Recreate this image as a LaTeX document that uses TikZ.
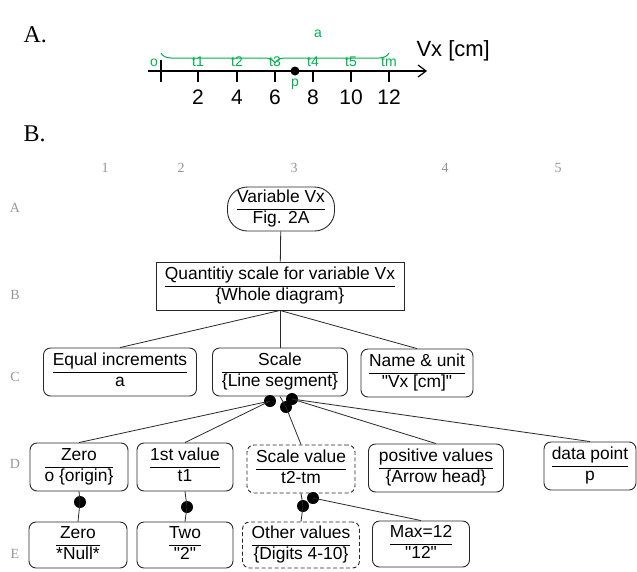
\documentclass[tikz,border=0pt]{standalone}
\usepackage{fontspec}
\setmainfont{Liberation Sans}
\newfontfamily\labserif{Liberation Serif}
\usetikzlibrary{arrows.meta,decorations.pathreplacing}
\definecolor{grn}{RGB}{0,176,80}
\definecolor{gridgray}{RGB}{150,150,150}
\definecolor{edge}{RGB}{40,40,40}
\newcommand{\twoline}[2]{{\setlength{\arrayrulewidth}{0.9pt}\renewcommand{\arraystretch}{1.0}\begin{tabular}{@{}c@{}}#1\\\hline #2\end{tabular}}}
\begin{document}
\begin{tikzpicture}[x=1pt,y=-1pt,
  box/.style={draw=edge, rounded corners=7pt, line width=0.9pt, inner sep=0pt,
    font=\fontsize{17.4}{19.5}\selectfont, minimum height=48pt},
  dbox/.style={box, dashed, dash pattern=on 4pt off 2.5pt},
  sbox/.style={box, rounded corners=0pt},
  link/.style={draw=edge, line width=0.8pt},
  dotn/.style={circle, fill=black, inner sep=0pt, minimum size=12pt},
  gridlab/.style={text=gridgray, font=\labserif\fontsize{14}{16}\selectfont},
  partlab/.style={font=\labserif\fontsize{24}{26}\selectfont},
  glab/.style={text=grn, font=\fontsize{14}{16}\selectfont},
  num/.style={font=\fontsize{21}{24}\selectfont}
]
\useasboundingbox (0,0) rectangle (637,571);

% ---------- Part A ----------
\node[partlab, anchor=west] (labA) at (20,35) {A.};
\draw[line width=1.2pt, -{Straight Barb[length=8pt,width=12pt]}] (148,71) -- (427,71);
\draw[line width=1.2pt] (161,60) -- (161,82);
\foreach \x/\n/\t in {198/2/t1, 237/4/t2, 275/6/t3, 313/8/t4, 351/10/t5, 389/12/tm}{
  \draw[line width=1.2pt] (\x,71) -- (\x,82);
  \node[glab] (l\t) at (\x,62) {\t};
  \node[num] (n\n) at (\x,97) {\n};
}
\node[glab] (lo) at (154,63) {o};
\node[circle, fill=black, inner sep=0pt, minimum size=9pt] (pdot) at (295,71) {};
\node[glab] (lp) at (295,84) {p};
\draw[grn, line width=1pt, decorate, decoration={brace, amplitude=10pt, mirror}] (161,53) -- (389,53);
\node[glab] (la) at (318,34) {a};
\node[font=\fontsize{22}{24}\selectfont, anchor=west] (vx) at (413,51) {Vx [cm]};

% ---------- Part B ----------
\node[partlab, anchor=west] (labB) at (20,134) {B.};
\foreach \x/\c in {105/1, 181/2, 294/3, 445/4, 558/5}{
  \node[gridlab] (c\c) at (\x,168) {\c};
}
\foreach \y/\r in {208/A, 295/B, 377/C, 464/D, 554/E}{
  \node[gridlab] (r\r) at (15,\y) {\r};
}

\node[box, rounded corners=20pt, minimum width=107pt, minimum height=44pt] (var) at (281,209) {\twoline{Variable Vx}{Fig. 2A}};
\node[sbox, minimum width=248pt] (quant) at (280,286) {\twoline{Quantitiy scale for variable Vx}{\{Whole diagram\}}};

\node[box, minimum width=153pt] (eq) at (120,372) {\twoline{Equal increments}{a}};
\node[box, minimum width=135pt] (scale) at (280,372) {\twoline{Scale}{\{Line segment\}}};
\node[box, minimum width=112pt] (name) at (417,373) {\twoline{Name \& unit}{\textquotedbl Vx [cm]\textquotedbl}};

\node[box, minimum width=98pt] (zeroD) at (79,467) {\twoline{Zero}{o \{origin\}}};
\node[box, minimum width=96pt] (first) at (185,467) {\twoline{1st value}{t1}};
\node[dbox, minimum width=108pt] (sv) at (301,469) {\twoline{Scale value}{t2-tm}};
\node[box, minimum width=135pt] (pos) at (436,468) {\twoline{positive values}{\{Arrow head\}}};
\node[box, minimum width=92pt] (dp) at (590,466) {\twoline{data point}{p}};

\node[box, minimum width=98pt, minimum height=46pt] (zeroE) at (78,545) {\twoline{Zero}{*Null*}};
\node[box, minimum width=96pt, minimum height=46pt] (two) at (185,545) {\twoline{Two}{\textquotedbl 2\textquotedbl}};
\node[dbox, minimum width=117pt, minimum height=46pt] (ov) at (301,545) {\twoline{Other values}{\{Digits 4-10\}}};
\node[box, minimum width=97pt, minimum height=46pt] (max) at (421,544) {\twoline{Max=12}{\textquotedbl 12\textquotedbl}};

% connectors
\draw[link] (var) -- (quant);
\draw[link] (quant.south) -- (eq.north);
\draw[link] (quant.south) -- (scale.north);
\draw[link] (quant.south) -- (name.north);

\node[dotn] (d1) at (270,401) {};
\node[dotn] (d2) at (292,399) {};
\node[dotn] (d3) at (286,407) {};
\draw[link] (d1.center) -- (zeroD.north);
\draw[link] (d1.center) -- (first.north);
\draw[link] (scale.south) -- (d3.center) -- (sv.north);
\draw[link] (d2.center) -- (pos.north);
\draw[link] (d2.center) -- (dp.north);

\node[dotn] (dz) at (80,502) {};
\node[dotn] (df) at (187,507) {};
\node[dotn] (da) at (303,506) {};
\node[dotn] (db) at (313,498) {};
\draw[link] (zeroD.south) -- (dz.center) -- (zeroE.north);
\draw[link] (first.south) -- (df.center) -- (two.north);
\draw[link] (sv.south) -- (da.center) -- (ov.north);
\draw[link] (db.center) -- (max.north);
\end{tikzpicture}
\end{document}
